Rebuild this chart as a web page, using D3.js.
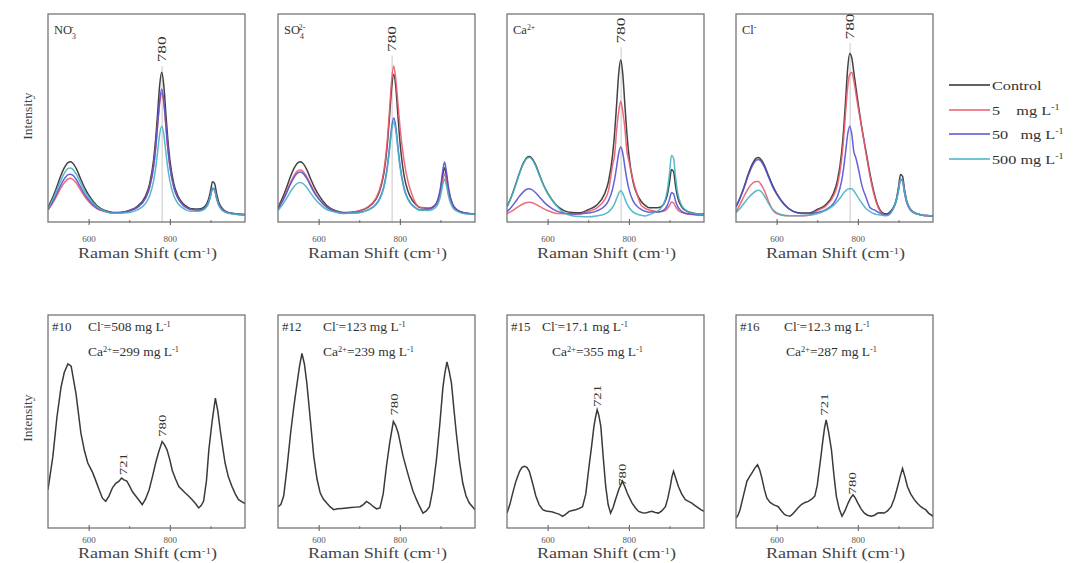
<!DOCTYPE html>
<html><head><meta charset="utf-8">
<script src="https://cdn.jsdelivr.net/npm/d3@7"></script>
<style>
body{margin:0;background:#fff}
svg{font-family:"Liberation Serif","Times New Roman",serif}
</style>
</head><body>
<svg id="c" width="1078" height="563"></svg>
<script>
// ---------------- DATA ----------------
const seriesNames = ["Control", "5    mg L", "50   mg L", "500 mg L"];
const xTicks = [600, 800];
const xMinorTicks = [700, 900];

// shared Raman-shift grid for the top row (cm-1)
const xTop = [500,510,520,530,540,550,555,560,570,580, 590,600,620,640,660,680,700,720,740,750,
  760,765,770,775,780,785,790,795,800,810, 820,830,840,850,860,870,880,890,895,900,
  905,910,915,920,930,940,950,960,970,985];

// NO3-
const no3Control = [7,11.1,16,21.5,26,28.7,29,28.5,25.5,20.9, 16.5,13,7.9,5.5,4.6,4.7,5.6,7.6,12.5,18.2, 29.9,39.7,52.6,65.9,72,65.9,52.6,39.7,29.9,18.2, 12.5,9.4,7.6,6.5,6.3,6.2,6.6,8.5,10.8,14.8, 19.4,18.6,13.7,9.7,6.3,4.9,4.3,4,3.8,3.6];
const no3C5 = [5.8,8.6,12,15.8,18.9,20.8,21,20.6,18.6,15.4, 12.4,9.9,6.4,5,4.3,4.5,5.3,7,11.4,16.5, 26.8,35.5,46.9,57,62,57.5,46.9,35.5,26.8,16.5, 11.4,8.7,7,6.1,5.8,5.7,6,7.4,9.2,12.4, 15.9,15.3,11.4,8.3,5.6,4.6,4.1,3.8,3.6,3.5];
const no3C50 = [6.1,9.2,13,17.2,20.7,22.8,23,22.6,20.3,16.8, 13.4,10.7,6.8,5.2,4.4,4.5,5.3,7,11.4,16.5, 26.8,35.5,46.9,58.6,64,58.6,46.9,35.5,26.8,16.5, 11.4,8.7,7,6.1,5.9,5.7,6.1,7.5,9.4,12.7, 16.4,15.7,11.7,8.5,5.7,4.6,4.2,3.8,3.6,3.5];
const no3C500 = [6.5,10.1,14.5,19.3,23.4,25.8,26,25.5,22.9,18.9, 15,11.9,7.4,5.2,4.2,4.3,4.6,5.8,8.9,12.5, 19.8,25.9,33.9,42.2,46,42.2,33.9,25.9,19.8,12.5, 8.9,7,5.8,5.2,5.2,5.2,5.6,7.2,9.1,12.4, 16.1,15.5,11.4,8.3,5.5,4.5,4,3.7,3.5,3.4];
// SO4 2-
const so4Control = [7,11.1,16,21.5,26,28.7,29,28.5,25.5,20.9, 16.5,13,7.9,5.5,4.6,4.7,5.3,6.9,10.6,14.8, 22.7,29.5,39.2,51.9,64.9,71,64.9,51.9,39.2,22.7, 14.8,10.6,8.3,6.9,6.8,6.6,7.1,9,11.2,15.3, 21.8,26.1,21.6,15,8.2,5.9,4.9,4.3,4.1,3.8];
const so4C5 = [6.4,9.8,14,18.6,22.5,24.8,25,24.6,22,18.2, 14.4,11.5,7.2,5.2,4.3,4.4,5.4,7.1,11.1,15.5, 23.9,31.1,41.3,54.8,68.6,75,68.6,57.8,46.3,29.9, 19.5,13.1,8.6,7.1,6.9,6.5,6.9,8.5,10.4,13.9, 19.5,23.2,19.3,13.5,7.7,5.7,4.7,4.2,4,3.7];
const so4C50 = [6.2,9.5,13.5,17.9,21.6,23.8,24,23.6,21.2,17.5, 13.9,11.1,7,5.1,4.2,4.4,4.6,5.7,8.3,11.1, 16.6,21.3,28,36.8,45.8,50,45.8,36.8,28,16.6, 11.1,8.3,6.7,5.7,6.1,6.1,6.8,9.1,11.8,16.4, 23.8,28.8,23.7,16.2,8.6,6,4.9,4.4,4,3.7];
const so4C500 = [5.5,8,11,14.4,17.2,18.8,19,18.7,16.8,14, 11.3,9.2,6,4.8,4.1,4.3,4.5,5.6,8,10.8, 16.1,20.6,26.9,35.4,44,48,44,35.4,26.9,16.1, 10.8,8,6.5,5.6,5.6,5.5,6,7.4,9.2,12.4, 17.4,20.7,17.3,12.1,6.9,5.2,4.4,4,3.8,3.6];
// Ca 2+
const caControl = [7.4,11.8,17.3,23.2,28.2,31.2,31.5,30.9,27.7,22.7, 17.8,14,8.4,5.5,4.6,4.5,5.9,8,13.4,19.6, 32.3,42.9,56.9,71.3,78,71.3,56.9,42.9,32.3,19.6, 13.4,10,8,6.8,6.8,6.8,7.4,10.2,13.3,18.9, 25.2,24.2,17.3,12,7.3,5.5,4.7,4.2,3.9,3.8];
const caC5 = [4,5,6.3,7.6,8.8,9.4,9.5,9.4,8.6,7.5, 6.4,5.5,4.2,4,3.8,3.9,5.1,6.6,10.6,15.2, 27.5,32.3,44.5,53.1,58,53.1,45.5,34.3,29.5,20.2, 13.6,8.1,6.6,5.8,5.4,5.1,5,5.6,6.5,7.9, 9.6,9.2,7.4,5.9,4.6,4,3.7,3.6,3.4,3.4];
const caC50 = [5,7,9.5,12.2,14.5,15.9,16,15.7,14.2,12, 9.8,8,5.5,4.3,3.8,4,4.3,5.2,7.6,10.3, 15.9,20.6,26.7,33.1,36,33.1,26.7,20.6,15.9,10.3, 7.6,6.1,5.2,4.7,4.8,4.7,5.1,6.5,8.1,10.9, 14.1,13.6,10.1,7.5,5.1,4.2,3.9,3.6,3.5,3.4];
const caC500 = [7.3,11.7,17,22.9,27.8,30.7,31,30.4,27.2,22.3, 17.6,13.8,8.3,4.5,3,2.6,2.5,2.9,3.8,4.9, 7.1,8.9,11.3,13.8,15,13.8,11.3,8.9,7.1,4.9, 3.8,3.2,2.9,3.5,4.3,5.1,6.9,11,15.6,23.3, 32,30.7,21.5,14.3,8,5.7,4.6,4.1,3.8,3.6];
// Cl-
const clControl = [7.3,11.7,17,22.9,27.8,30.7,31,30.4,27.2,22.3, 17.6,13.8,8.3,5.2,4.3,4.3,6,8.1,13.8,20.2, 33.4,44.5,59,74,81,79,72,65,58,45, 34,23,14,7.5,4.5,3.8,5,8,11.2,16.7, 22.8,21.9,15.4,10.4,6,4.4,3.7,3.3,3.1,2.9];
const clC5 = [5,8.5,12.5,16,18.5,19.5,19.5,18.5,15,10, 6,4,3,3,3,3.3,5.5,7.5,12.5,18, 30,40,53,65,71,72,68,62,56,45, 33,22,13,7,4,3.2,4.5,7.5,10.5,15.5, 20.5,20,14,9.5,5.5,4.2,3.6,3.2,3,2.8];
const clC50 = [7.2,11.4,16.5,22.2,26.9,29.7,30,29.5,26.4,21.6, 17,13.4,8.1,5.1,4.1,4.1,4.6,5.8,8.9,12.5, 19.8,25.9,33.9,42.2,46,42.2,33.9,30.9,26.8,17.5, 11.9,7,5.8,4.7,3.8,3.5,4.5,7.8,10.6,15.3, 20.5,19.7,14.1,9.8,5.9,4.4,3.7,3.3,3.1,2.9];
const clC500 = [4.5,6.5,9,11.5,13.5,15,15.3,15,12.5,9, 6,4.5,3.3,3,3,3.2,4,5.5,8,10, 12.5,14,15,15.8,16,16,15,13.5,12,9, 6.5,5,4,3.5,3.2,3,4,7.8,10.6,15.3, 20.5,19.7,14.1,9.8,5.9,4.4,3.7,3.3,3.1,2.9];

// 780 label position (intensity units) in the top row
const topPeakLabelY = [83, 88, 92, 94];

// bottom row samples: [Raman shift, intensity]
const s10 = [[500,18],[512,33.6],[522,52],[532,66],[540,73],[549,77],[557,76],[569,63],[581,44.5],[590,36],[598,30.5],[610,26],[618,22],[626,18],[634,14],[642,12.5],[650,15],[659,19],[667,21],[675,22],[681,23.5],[687,22.6],[694,22],[700,20],[708,17],[716,15],[724,13],[732,11],[740,13.5],[749,18],[757,24],[765,30.5],[773,36],[781,40.6],[787,39],[793,36.7],[800,32],[806,27],[814,23],[822,19.5],[830,18],[838,16.4],[846,15],[855,13.3],[863,11.5],[871,9.4],[877,10.5],[883,12.5],[890,22],[896,36.7],[904,50],[912,61],[918,55],[924,46],[930,38],[936,30.5],[944,24],[953,19.5],[961,16],[969,13.3],[976,12.5],[985,11.5]];
const s12 = [[500,10],[507,11],[514,15],[522,28],[531,44.5],[539,57],[547,68],[553,76],[559,82],[565,77],[571,68],[579,52],[588,33.6],[596,23],[604,16.4],[612,13.5],[620,11.7],[628,10],[637,8.6],[647,9],[658,9.2],[669,9.4],[680,9.6],[691,9.8],[702,10],[710,11],[718,12.5],[726,11.5],[735,10],[743,9],[751,9.4],[759,16],[767,29],[775,40],[784,50],[790,48],[796,44.5],[802,39],[808,33.6],[816,28],[824,22.6],[832,17.5],[841,13.3],[849,10],[857,7],[865,8],[873,10],[881,18],[890,32],[898,48],[906,66],[911,73],[916,78],[921,74],[927,68],[933,56],[939,44.5],[947,31],[955,21],[963,15],[971,11.7],[985,8.6]];
const s15 = [[500,7],[507,11],[514,16.4],[522,22],[531,26.6],[537,28.5],[543,29],[549,28.5],[555,26.6],[563,21],[571,15],[579,11],[588,8.6],[596,8],[604,7.8],[612,7.5],[620,7],[628,6.5],[637,5.5],[645,6.5],[653,7.8],[661,8.2],[669,8.6],[678,9.2],[686,10],[694,16],[702,29],[708,38],[714,47.7],[718,52],[722,55.5],[726,53],[731,47.7],[737,33],[743,19.5],[749,11],[755,7],[761,9.5],[767,13.3],[775,18],[784,22],[790,19.5],[796,16.4],[802,14],[808,11.7],[816,9.5],[824,7.8],[833,7.2],[841,7],[849,7.5],[857,7.8],[865,7.3],[873,7],[881,8],[890,10],[896,14],[902,19.5],[906,24],[910,26.6],[916,23],[922,19.5],[930,16],[939,13.3],[947,12.5],[955,11.7],[963,10.5],[971,9.4],[978,8.5],[985,7.8]];
const s16 = [[500,4.7],[505,6],[510,8.6],[518,15],[527,22],[533,24],[539,25.8],[546,28],[553,29.7],[558,27.5],[563,24],[570,18],[576,14],[584,12],[592,11],[598,10.5],[604,10],[612,8],[620,6.25],[626,5.8],[633,5.5],[639,6.5],[645,7.8],[653,9.5],[661,11],[670,12],[678,12.5],[686,13.5],[694,15],[700,20],[706,29],[710,35],[714,41.4],[718,47],[722,50.8],[728,45],[735,36.7],[741,25],[747,15],[754,9],[761,5.5],[768,8],[776,11.7],[782,14],[788,15.6],[794,14],[800,11.7],[808,9],[816,7],[824,6],[833,5.5],[841,6],[849,7],[857,7.2],[865,7],[873,8],[882,10],[890,14],[898,19.5],[904,24],[910,28],[916,24],[922,19.5],[930,16],[939,13.3],[947,11.5],[955,10],[961,9.2],[967,8.6],[974,7],[985,5.5]];

const sampleIds = ["#10", "#12", "#15", "#16"];
const clValues = ["508", "123", "17.1", "12.3"];
const caValues = ["299", "239", "355", "287"];
// bottom peak labels: [text, Raman shift, intensity]
const bottomPeakLabels = [
  [["721", 684, 30], ["780", 781, 48]],
  [["780", 784, 58]],
  [["721", 720, 62], ["780", 782, 25]],
  [["721", 716, 58], ["780", 784, 21]]
];

// ---------------- LAYOUT / STYLE ----------------
const colors = ["#2e2e2e", "#ee5a6c", "#5450d4", "#46b2c2"];
const lefts = [48, 278, 507, 736];
const PW = 197;
const TOP = {y0: 14, y1: 222, tickPad: 11, titleY: 258};
const BOT = {y0: 315, y1: 528, tickPad: 6, titleY: 558};
const svg = d3.select("#c");

function rich(g, parts, o) {
  const t = g.append("text")
    .attr("transform", `translate(${o.x},${o.y}) rotate(${o.rot || 0}) scale(${o.sx || 1},1)`)
    .attr("font-size", o.size)
    .attr("text-anchor", o.anchor || "start")
    .attr("fill", o.fill || "#333")
    .style("white-space", "pre");
  if (o.mid) t.attr("dominant-baseline", "central");
  parts.forEach(p => {
    const q = typeof p === "string" ? {t: p} : p;
    const ts = t.append("tspan").text(q.t);
    if (q.k === "sup") ts.attr("baseline-shift", "super").attr("font-size", o.size * 0.62);
    if (q.k === "sub") ts.attr("baseline-shift", "sub").attr("font-size", o.size * 0.62);
    if (q.dx) ts.attr("dx", q.dx);
  });
  return t;
}

const titleParts = [
  ["NO", {t: "3", k: "sub"}, {t: "-", k: "sup", dx: -5}],
  ["SO", {t: "4", k: "sub"}, {t: "2-", k: "sup", dx: -5}],
  ["Ca", {t: "2+", k: "sup"}],
  ["Cl", {t: "-", k: "sup"}]
];

let clipId = 0;
function panel(left, row) {
  const g = svg.append("g");
  const x = d3.scaleLinear().domain([500, 985]).range([left, left + PW]);
  const y = d3.scaleLinear().domain([0, 100]).range([row.y1, row.y0]);
  const id = "clip" + (clipId++);
  g.append("clipPath").attr("id", id).append("rect")
    .attr("x", left).attr("y", row.y0).attr("width", PW).attr("height", row.y1 - row.y0);
  const plot = g.append("g").attr("clip-path", `url(#${id})`);
  const ax = g.append("g").attr("transform", `translate(0,${row.y1})`)
    .call(d3.axisBottom(x).tickValues(xTicks).tickSize(3).tickPadding(row.tickPad).tickFormat(d3.format("d")));
  ax.select(".domain").remove();
  ax.selectAll(".tick line").attr("y1", -3).attr("y2", 3).attr("stroke", "#555");
  ax.selectAll(".tick text").attr("font-size", 9).attr("fill", "#555").attr("font-family", "Liberation Serif");
  const mx = g.append("g").attr("transform", `translate(0,${row.y1})`)
    .call(d3.axisBottom(x).tickValues(xMinorTicks).tickSize(2).tickFormat(""));
  mx.select(".domain").remove();
  mx.selectAll(".tick line").attr("y1", -2).attr("y2", 1).attr("stroke", "#777");
  rich(g, ["Raman Shift (cm", {t: "-1", k: "sup"}, ")"],
    {x: left + PW / 2 + 1, y: row.titleY, size: 14.5, sx: 1.25, anchor: "middle", fill: "#444"});
  return {g, plot, x, y, left};
}

function frame(p, row) {
  p.g.append("rect").attr("x", p.left).attr("y", row.y0).attr("width", PW).attr("height", row.y1 - row.y0)
    .attr("fill", "none").attr("stroke", "#6a6a6a").attr("stroke-width", 1.2);
}

// ---------------- TOP ROW ----------------
const topData = [
  [no3Control, no3C5, no3C50, no3C500],
  [so4Control, so4C5, so4C50, so4C500],
  [caControl, caC5, caC50, caC500],
  [clControl, clC5, clC50, clC500]
];
topData.forEach((set, i) => {
  const p = panel(lefts[i], TOP);
  const line = d3.line().x((d, j) => p.x(xTop[j])).y(d => p.y(d)).curve(d3.curveMonotoneX);
  p.plot.append("line").attr("x1", p.x(781)).attr("x2", p.x(781))
    .attr("y1", p.y(topPeakLabelY[i] - 8)).attr("y2", TOP.y1)
    .attr("stroke", "#bbb").attr("stroke-width", 0.8);
  set.forEach((vals, k) => {
    p.plot.append("path").datum(vals).attr("d", line).attr("fill", "none")
      .attr("stroke", colors[k]).attr("stroke-width", 1.5).attr("stroke-opacity", 0.9);
  });
  rich(p.g, ["780"], {x: p.x(782), y: p.y(topPeakLabelY[i]), size: 11.5, sx: 1.5, rot: -90, anchor: "middle", mid: true, fill: "#333"});
  rich(p.g, titleParts[i], {x: lefts[i] + 6, y: 34, size: 12.5, fill: "#333"});
  frame(p, TOP);
});

// ---------------- BOTTOM ROW ----------------
const botData = [s10, s12, s15, s16];
const clX = [40, 45, 35, 48];
const caX = [40, 45, 45, 50];
botData.forEach((vals, i) => {
  const p = panel(lefts[i], BOT);
  const line = d3.line().x(d => p.x(d[0])).y(d => p.y(d[1])).curve(d3.curveLinear);
  p.plot.append("path").datum(vals).attr("d", line).attr("fill", "none")
    .attr("stroke", "#3a3a3a").attr("stroke-width", 1.5);
  bottomPeakLabels[i].forEach(l => {
    rich(p.g, [l[0]], {x: p.x(l[1]), y: p.y(l[2]), size: 11, sx: 1.35, rot: -90, anchor: "middle", mid: true, fill: "#333"});
  });
  rich(p.g, [sampleIds[i]], {x: lefts[i] + 4, y: 331, size: 13, fill: "#333"});
  rich(p.g, ["Cl", {t: "-", k: "sup"}, "=" + clValues[i] + " mg L", {t: "-1", k: "sup"}],
    {x: lefts[i] + clX[i], y: 331, size: 13.5, fill: "#333"});
  rich(p.g, ["Ca", {t: "2+", k: "sup"}, "=" + caValues[i] + " mg L", {t: "-1", k: "sup"}],
    {x: lefts[i] + caX[i], y: 356, size: 13.5, fill: "#333"});
  frame(p, BOT);
});

rich(svg, ["Intensity"], {x: 27, y: 116, size: 13.5, rot: -90, anchor: "middle", mid: true, fill: "#444"});
rich(svg, ["Intensity"], {x: 27, y: 418, size: 13.5, rot: -90, anchor: "middle", mid: true, fill: "#444"});

// ---------------- LEGEND ----------------
const legY = [85, 110, 134, 159];
const lg = svg.append("g");
seriesNames.forEach((n, k) => {
  lg.append("line").attr("x1", 949).attr("x2", 990).attr("y1", legY[k]).attr("y2", legY[k])
    .attr("stroke", colors[k]).attr("stroke-width", 1.3);
  const parts = k === 0 ? [n] : [n, {t: "-1", k: "sup"}];
  rich(lg, parts, {x: 992, y: legY[k] + 4.5, size: 12.5, sx: 1.3, fill: "#333"});
});
</script>
</body></html>
